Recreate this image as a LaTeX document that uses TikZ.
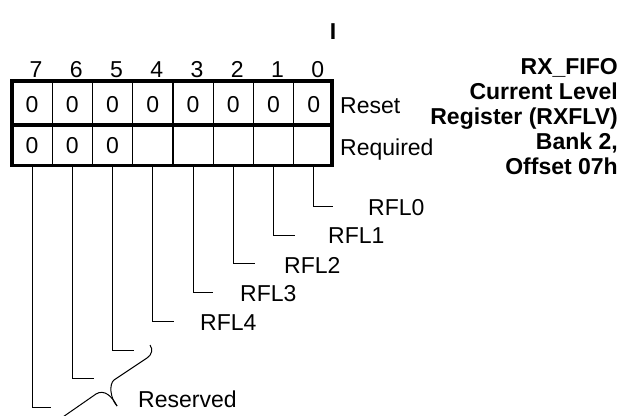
\documentclass[tikz,border=0pt]{standalone}
\usepackage{fontspec}
\setmainfont{Liberation Sans}
\begin{document}
\begin{tikzpicture}[x=1pt,y=-1pt,inner sep=0pt,
  font=\fontsize{23}{27}\selectfont,
  cell/.style={anchor=base},
  bitnum/.style={anchor=base},
  thickline/.style={line width=3.2pt},
  gridline/.style={line width=1.4pt},
  lead/.style={line width=1pt},
  rowlbl/.style={anchor=base west},
  fldlbl/.style={anchor=base west},
  title/.style={anchor=base east,font=\fontsize{23}{27}\selectfont\bfseries}]
\useasboundingbox (0,0) rectangle (636,415);

% cells, bit numbers, leader start points
\foreach \b in {0,...,7} {
  \pgfmathsetmacro\cx{12+(7-\b)*40.25+20.125}
  \node[bitnum] (n\b) at (\cx+4,77) {\b};
  \node[cell] (r\b) at (\cx,112.5) {0};
  \coordinate (s\b) at (\cx,167);
}
\foreach \b in {7,6,5} {
  \pgfmathsetmacro\cx{12+(7-\b)*40.25+20.125}
  \node[cell] (q\b) at (\cx,153.5) {0};
}

% grid
\foreach \k in {1,...,7} {
  \draw[gridline] (12+\k*40.25,81) -- (12+\k*40.25,165.5);
}
\draw[thickline] (12,81) rectangle (332,165.5);
\draw[thickline] (12,125) -- (332,125);

% row labels
\node[rowlbl] (reset) at (340,113) {Reset};
\node[rowlbl] (req) at (340,155) {Required};

% top mark
\node[font=\fontsize{23}{27}\selectfont\bfseries] (mark) at (333,32) {I};

% title
\node[title] (t1) at (618,74) {RX\_FIFO};
\node[title] (t2) at (618,99.5) {Current Level};
\node[title] (t3) at (618,124) {Register (RXFLV)};
\node[title] (t4) at (618,149.5) {Bank 2,};
\node[title] (t5) at (618,174.5) {Offset 07h};

% leader end points
\coordinate (e0) at (333,206);
\coordinate (e1) at (295,235);
\coordinate (e2) at (255,263.5);
\coordinate (e3) at (213,292);
\coordinate (e4) at (174,321);
\coordinate (e5) at (134,350);
\coordinate (e6) at (94,378.5);
\coordinate (e7) at (51,407);
\foreach \b in {0,...,7} {
  \draw[lead] (s\b) |- (e\b);
}

% field labels
\node[fldlbl] (f0) at (368,215) {RFL0};
\node[fldlbl] (f1) at (328,243.5) {RFL1};
\node[fldlbl] (f2) at (284,273) {RFL2};
\node[fldlbl] (f3) at (240,301.5) {RFL3};
\node[fldlbl] (f4) at (200,330.5) {RFL4};

% brace for reserved bits
\draw[lead] (150,345) .. controls (153,349) and (152,355) .. (147,358)
  -- (114,380) .. controls (109,384) and (110,398) .. (117,406);
\draw[lead] (117,406) .. controls (112,396) and (104,389) .. (96,394) -- (60,419);
\node[anchor=base west] (res) at (138,407) {Reserved};
\end{tikzpicture}
\end{document}
